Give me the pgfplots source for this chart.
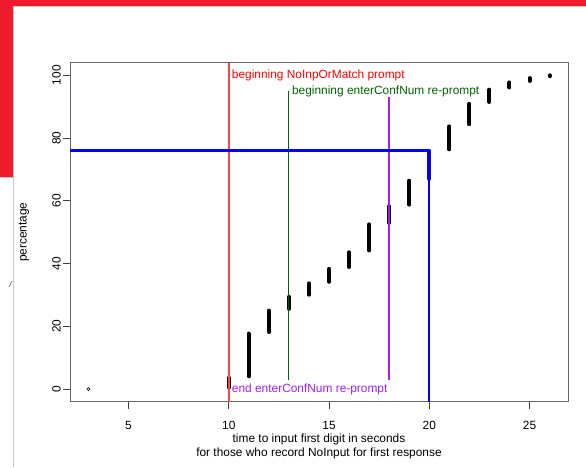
\documentclass[border=0pt]{standalone}
\usepackage{fontspec}
\setmainfont{Liberation Sans}
\usepackage{pgfplots}
\pgfplotsset{compat=1.18}
\definecolor{bannerred}{RGB}{237,27,45}
\definecolor{rpurple}{RGB}{160,32,240}
\definecolor{rred}{RGB}{255,70,70}
\definecolor{rgreen}{RGB}{0,100,0}
\definecolor{rblue}{RGB}{0,0,255}
\definecolor{barblue}{RGB}{10,10,190}
\definecolor{edgegray}{RGB}{200,200,200}

\begin{document}
\fontsize{11.9}{14}\selectfont
\begin{tikzpicture}
% page furniture around the plot (screenshot frame)
\useasboundingbox (0pt,0pt) rectangle (586pt,467pt);
\fill[white] (0pt,0pt) rectangle (586pt,467pt);
\fill[bannerred] (0pt,461pt) rectangle (586pt,467pt);
\fill[bannerred] (0pt,290.3pt) rectangle (13pt,467pt);
\draw[edgegray, line width=0.8pt] (13.6pt,0pt) -- (13.6pt,460.5pt) -- (586pt,460.5pt);
\draw[edgegray, line width=0.8pt] (0pt,290pt) -- (13.6pt,290pt);
\draw[gray, line width=0.7pt] (9pt,180pt) -- (12pt,186pt);

\begin{axis}[
  at={(70pt,65.3pt)}, anchor=south west,
  scale only axis, width=498pt, height=339pt,
  xmin=2.08, xmax=26.92, ymin=-4, ymax=104,
  xtick={5,10,15,20,25}, ytick={0,20,40,60,80,100},
  xtick pos=bottom, ytick pos=left,
  tick align=outside, major tick length=7pt,
  tick style={black!75, line width=0.8pt},
  axis line style={black!60, line width=1pt},
  /pgf/number format/assume math mode=true,
  yticklabel style={rotate=90, anchor=south, yshift=-2pt},
  xticklabel style={yshift=-8pt},
  xlabel={time to input first digit in seconds\\for those who record NoInput for first response},
  xlabel style={at={(axis description cs:0.5,-0.1316)}, anchor=center, align=center,
    font=\fontsize{11.9}{14}\selectfont},
  ylabel={percentage},
  ylabel style={at={(axis description cs:-0.0924,0.5)}, anchor=center},
  unbounded coords=jump,
  clip=true,
]
% cumulative percentage of callers, one run of points per whole second
\addplot[only marks, mark=o, mark size=1.6pt, black, line width=0.6pt] coordinates {(3,0)};
\addplot[black, line width=4pt, line cap=round] coordinates {
  (10,0.5) (10,3.6) (10.5,nan)
  (11,4.1) (11,17.7) (11.5,nan)
  (12,18.2) (12,25.0) (12.5,nan)
  (13,25.6) (13,29.4) (13.5,nan)
  (14,30.1) (14,33.7) (14.5,nan)
  (15,34.2) (15,38.3) (15.5,nan)
  (16,38.9) (16,43.6) (16.5,nan)
  (17,44.2) (17,52.5) (17.5,nan)
  (18,53.0) (18,58.3) (18.5,nan)
  (19,58.8) (19,66.4) (19.5,nan)
  (21,76.4) (21,83.7) (21.5,nan)
  (22,84.4) (22,90.9) (22.5,nan)
  (23,91.5) (23,95.4) (23.5,nan)
  (24,96.1) (24,97.7) (24.5,nan)
  (25,98.2) (25,99.1) (25.5,nan)
  (26,99.7) (26,100.0)
};
\addplot[barblue, line width=4pt, line cap=round] coordinates {(20,67.0) (20,75.9)};

% reference lines
\addplot[color=rred, line width=1.5pt] coordinates {(10,-4) (10,104)};
\addplot[color=rgreen, line width=1.1pt] coordinates {(13,3) (13,95)};
\addplot[color=rpurple, line width=1.5pt] coordinates {(18,3) (18,93)};
\addplot[color=rblue, line width=2.2pt] coordinates {(2.08,76) (20,76) (20,-4)};

\node[red, anchor=west, inner sep=0pt, xshift=3pt] at (axis cs:10,100) {beginning NoInpOrMatch prompt};
\node[rgreen, anchor=west, inner sep=0pt, xshift=3pt] at (axis cs:13,95) {beginning enterConfNum re-prompt};
\node[rpurple, anchor=west, inner sep=0pt, xshift=3pt] at (axis cs:10,0) {end enterConfNum re-prompt};
\end{axis}
\end{tikzpicture}
\end{document}
